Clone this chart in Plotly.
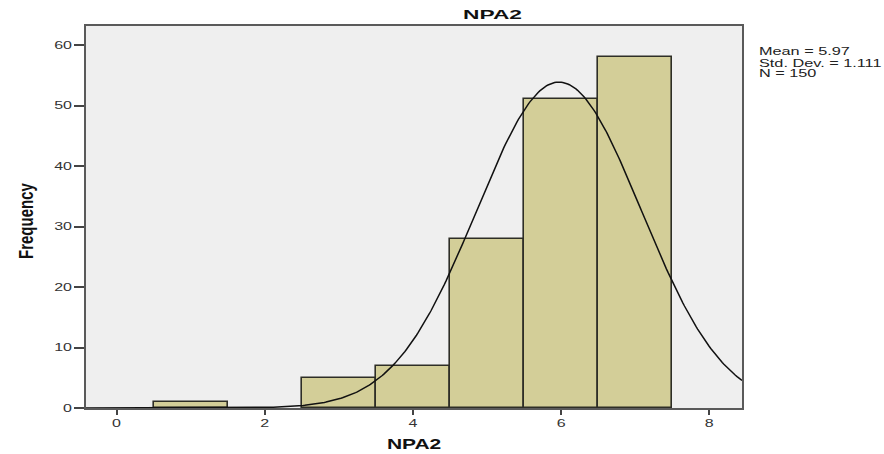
import json
import numpy as np
import plotly.graph_objects as go

# Histogram of NPA2 (bin width 1)
bin_centers = [1, 3, 4, 5, 6, 7]
counts = [1, 5, 7, 28, 51, 58]
mean_val = 5.97
std_val = 1.111
n_total = 150
x_ticks = [0, 2, 4, 6, 8]
y_ticks = [0, 10, 20, 30, 40, 50, 60]
stats_lines = [f"Mean = {mean_val}", f"Std. Dev. = {std_val}", f"N = {n_total}"]

x_range = [-0.414, 8.44]
y_range = [0, 63.14]

# plot area in pixels
L, R, T, B = 86, 742, 26, 408
W, H = 884, 454


def px_to_paper_y(py):
    return (B - py) / (B - T)


def px_to_paper_x(px):
    return (px - L) / (R - L)


fig = go.Figure()

fig.add_trace(go.Bar(
    x=bin_centers, y=counts, width=1,
    marker=dict(color="#D3CE98", line=dict(color="#2e2e26", width=1.6)),
    showlegend=False,
))

# Fitted normal curve scaled to the counts
xs = np.linspace(x_range[0], x_range[1], 400)
ys = n_total / (std_val * np.sqrt(2 * np.pi)) * np.exp(-0.5 * ((xs - mean_val) / std_val) ** 2)
fig.add_trace(go.Scatter(
    x=xs, y=ys, mode="lines",
    line=dict(color="#111111", width=1.5),
    showlegend=False,
))

base_font = "Liberation Sans, Arial, sans-serif"

annotations = [
    # x-axis title
    dict(xref="paper", yref="paper", x=px_to_paper_x(414), y=px_to_paper_y(443.5),
         xanchor="center", yanchor="middle", showarrow=False,
         text="<b>NPA2</b>", font=dict(family=base_font, size=14, color="#111111")),
    # y-axis title
    dict(xref="paper", yref="paper", x=px_to_paper_x(25), y=px_to_paper_y(221),
         xanchor="center", yanchor="middle", showarrow=False, textangle=-90,
         text="<b>Frequency</b>", font=dict(family=base_font, size=15, color="#111111")),
]
for line, py in zip(stats_lines, [51.5, 62.5, 73]):
    annotations.append(dict(
        xref="paper", yref="paper", x=px_to_paper_x(757), y=px_to_paper_y(py),
        xanchor="left", yanchor="middle", align="left", showarrow=False,
        text=line, font=dict(family=base_font, size=10.5, color="#222222"),
    ))

fig.update_layout(
    width=W, height=H,
    margin=dict(l=L, r=W - R, t=T, b=H - B, autoexpand=False),
    paper_bgcolor="white",
    plot_bgcolor="#EFEFEF",
    bargap=0,
    font=dict(family=base_font, color="#333333", size=10),
    title=dict(text="<b>NPA2</b>", xref="paper", x=px_to_paper_x(492.5), xanchor="center",
               yref="container", y=1 - 14 / H, yanchor="middle",
               font=dict(family=base_font, size=13, color="#111111")),
    xaxis=dict(
        range=x_range, tickvals=x_ticks, ticks="outside", ticklen=5, tickwidth=1.5,
        tickcolor="#444444", showgrid=False, zeroline=False, automargin=False,
        showline=True, linecolor="#5a5a5a", linewidth=1.5, mirror=True,
        tickfont=dict(size=10, color="#333333"),
    ),
    yaxis=dict(
        range=y_range, tickvals=y_ticks, ticks="outside", ticklen=10, tickwidth=1.5,
        tickcolor="#444444", showgrid=False, zeroline=False, automargin=False,
        showline=True, linecolor="#5a5a5a", linewidth=1.5, mirror=True,
        tickfont=dict(size=10, color="#333333"),
    ),
    annotations=annotations,
)

# Horizontal glyph widening for the labels (text stays as SVG text)
stretch_cfg = {
    "default": 1.6,
    "title": 1.75,
    "by_text": {"NPA2": [1.5, "middle"], "Frequency": [1.3, "middle"]},
    "left_prefix": ["Mean", "Std", "N ="],
    "stats": 1.55,
}

post = """
(function(){
  var cfg = %s;
  var gd = document.getElementById('{plot_id}');
  var texts = gd.querySelectorAll('svg.main-svg text');
  texts.forEach(function(t){
    var txt = (t.textContent || '').trim();
    if (!txt) return;
    var s = cfg['default'];
    var anchor = t.getAttribute('text-anchor') || 'start';
    if (t.closest('.gtitle')) { s = cfg.title; anchor = 'middle'; }
    else if (cfg.by_text[txt]) { s = cfg.by_text[txt][0]; anchor = cfg.by_text[txt][1]; }
    else {
      for (var i = 0; i < cfg.left_prefix.length; i++) {
        if (txt.indexOf(cfg.left_prefix[i]) === 0) { s = cfg.stats; anchor = 'start'; }
      }
    }
    var r = t.getBoundingClientRect();
    if (!r.width) return;
    var ax = anchor === 'end' ? r.right : (anchor === 'middle' ? (r.left + r.right) / 2 : r.left);
    var ay = (r.top + r.bottom) / 2;
    var owner = t.ownerSVGElement;
    var M = t.parentNode.getScreenCTM();
    var S = owner.createSVGMatrix().translate(ax, ay).scaleNonUniform(s, 1).translate(-ax, -ay);
    var N = M.inverse().multiply(S).multiply(M);
    var prev = t.getAttribute('transform') || '';
    t.setAttribute('transform', 'matrix(' + [N.a, N.b, N.c, N.d, N.e, N.f].join(',') + ') ' + prev);
  });
})();
""" % json.dumps(stretch_cfg)

fig.write_html("out.html", post_script=post)
